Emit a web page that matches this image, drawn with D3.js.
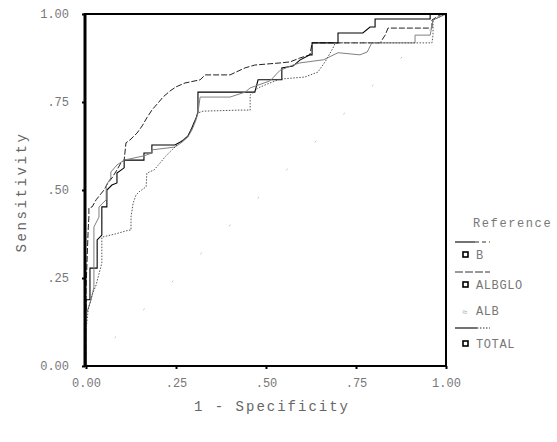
<!DOCTYPE html>
<html>
<head>
<meta charset="utf-8">
<script src="https://cdn.jsdelivr.net/npm/d3@7"></script>
<style>
  html, body { margin: 0; padding: 0; background: #fff; }
  svg { display: block; }
  text { font-family: "Liberation Mono", "DejaVu Sans Mono", monospace; }
</style>
</head>
<body>
<svg id="chart" width="557" height="442"></svg>
<script>
// ---- data (1 - specificity, sensitivity) ----
const tickValues = [0, 0.25, 0.5, 0.75, 1];
const tickLabels = ["0.00", ".25", ".50", ".75", "1.00"];
const seriesNames = ["B", "ALBGLO", "ALB", "TOTAL"];
const legendTitle = "Reference";
const xTitle = "1 - Specificity";
const yTitle = "Sensitivity";

const curveB = [[0,0],[0,.216],[.006,.386],[.008,.423],[.008,.449],[.017,.452],[.028,.472],[.039,.486],[.05,.5],[.061,.52],[.072,.534],[.086,.557],[.097,.577],[.106,.585],[.111,.634],[.122,.642],[.142,.662],[.156,.682],[.169,.705],[.183,.727],[.2,.747],[.214,.764],[.233,.781],[.25,.793],[.275,.804],[.317,.813],[.331,.827],[.4,.827],[.442,.847],[.469,.855],[.539,.861],[.567,.864],[.594,.875],[.622,.884],[.628,.918],[.817,.918],[.831,.94],[.839,.96],[.961,.96],[.961,.983],[.983,.997],[1,1]];

const curveALBGLO = [[0,0],[0,.188],[.011,.188],[.011,.278],[.031,.278],[.031,.358],[.044,.372],[.044,.452],[.058,.452],[.058,.5],[.072,.514],[.086,.52],[.086,.548],[.106,.563],[.106,.585],[.161,.585],[.161,.605],[.183,.605],[.183,.628],[.247,.628],[.267,.639],[.283,.653],[.294,.676],[.306,.705],[.311,.722],[.311,.778],[.469,.778],[.478,.813],[.544,.813],[.544,.847],[.575,.852],[.594,.869],[.622,.884],[.628,.884],[.628,.918],[.7,.918],[.7,.946],[.769,.946],[.789,.963],[.803,.963],[.803,.986],[.956,.986],[.956,1],[1,1]];

const curveALB = [[0,0],[0,.145],[.014,.188],[.022,.224],[.022,.395],[.036,.423],[.036,.452],[.056,.472],[.056,.514],[.069,.534],[.069,.551],[.086,.571],[.106,.585],[.161,.597],[.183,.605],[.183,.614],[.247,.622],[.267,.636],[.283,.651],[.294,.67],[.306,.7],[.311,.72],[.317,.764],[.4,.764],[.442,.778],[.456,.79],[.511,.81],[.539,.84],[.575,.855],[.594,.861],[.66,.87],[.7,.89],[.761,.884],[.781,.892],[.794,.918],[.914,.918],[.914,.94],[.956,.94],[.964,.983],[1,1]];

const curveTOTAL = [[0,0],[0,.102],[.006,.159],[.017,.202],[.028,.23],[.039,.273],[.044,.293],[.044,.366],[.081,.375],[.119,.386],[.125,.386],[.125,.423],[.131,.463],[.139,.486],[.15,.497],[.167,.509],[.169,.548],[.189,.557],[.206,.577],[.222,.597],[.239,.614],[.261,.636],[.283,.653],[.294,.676],[.306,.705],[.311,.719],[.325,.724],[.428,.727],[.456,.727],[.456,.77],[.478,.79],[.511,.804],[.539,.815],[.608,.821],[.644,.835],[.664,.864],[.686,.903],[.692,.918],[.961,.918],[.964,.94],[.964,.983],[1,1]];

const referenceLine = [[0,0],[1,1]];

// ---- drawing ----
const svg = d3.select("#chart");
const x = d3.scaleLinear().domain([0, 1]).range([86, 446]);
const y = d3.scaleLinear().domain([0, 1]).range([366, 14]);
const fmt = d => tickLabels[tickValues.indexOf(d)];

// faint reference diagonal
const line = d3.line().x(d => x(d[0])).y(d => y(d[1]));
svg.append("path").datum(referenceLine).attr("d", line)
  .attr("fill", "none").attr("stroke", "#bbb").attr("stroke-width", 1)
  .attr("stroke-dasharray", "2,38");

// curves
const styles = [
  { data: curveB, stroke: "#222", width: 1, dash: "6,2" },
  { data: curveALBGLO, stroke: "#000", width: 1.1, dash: null },
  { data: curveALB, stroke: "#808080", width: 1, dash: null },
  { data: curveTOTAL, stroke: "#555", width: 1, dash: "1.5,1.5" }
];
styles.forEach(s => {
  svg.append("path").datum(s.data).attr("d", line)
    .attr("fill", "none").attr("stroke", s.stroke)
    .attr("stroke-width", s.width)
    .attr("stroke-dasharray", s.dash);
});

// frame
svg.append("rect").attr("x", 85).attr("y", 14).attr("width", 361).attr("height", 352)
  .attr("fill", "none").attr("stroke", "#000").attr("stroke-width", 2);
svg.append("line").attr("x1", 85).attr("x2", 85).attr("y1", 13).attr("y2", 367)
  .attr("stroke", "#000").attr("stroke-width", 3);

// axes
const xAxis = d3.axisBottom(x).tickValues(tickValues).tickFormat(fmt).tickSize(3).tickPadding(9);
const yAxis = d3.axisLeft(y).tickValues(tickValues).tickFormat(fmt).tickSize(3).tickPadding(13);
const gx = svg.append("g").attr("transform", "translate(0,366)").call(xAxis);
const gy = svg.append("g").attr("transform", "translate(85,0)").call(yAxis);
[gx, gy].forEach(g => {
  g.select(".domain").remove();
  g.selectAll(".tick line").attr("stroke", "#000").attr("stroke-width", 2);
  g.selectAll(".tick text").attr("fill", "#777").style("font-size", "12px")
    .style("font-family", "'Liberation Mono', monospace");
});

// axis titles
svg.append("text").attr("x", 272).attr("y", 411).attr("text-anchor", "middle")
  .attr("fill", "#666").style("font-size", "14px").style("letter-spacing", "2px")
  .text(xTitle);
svg.append("text").attr("transform", "translate(26,192) rotate(-90)")
  .attr("text-anchor", "middle").attr("fill", "#666")
  .style("font-size", "14px").style("letter-spacing", "2.6px")
  .text(yTitle);

// legend
const lg = svg.append("g");
lg.append("text").attr("x", 473).attr("y", 227).attr("fill", "#777")
  .style("font-size", "12px").style("letter-spacing", "1.6px").text(legendTitle);
const sampleRows = [
  { y: 242, solid: 20, dash: "4,3" },
  { y: 272, solid: 0, dash: "8,2" },
  { y: 328, solid: 22, dash: "1.5,1.5" }
];
sampleRows.forEach(r => {
  if (r.solid > 0) {
    lg.append("line").attr("x1", 455).attr("x2", 455 + r.solid).attr("y1", r.y).attr("y2", r.y)
      .attr("stroke", "#000").attr("stroke-width", 1.1);
  }
  lg.append("line").attr("x1", 455 + r.solid).attr("x2", 490).attr("y1", r.y).attr("y2", r.y)
    .attr("stroke", "#333").attr("stroke-width", 1).attr("stroke-dasharray", r.dash);
});
const labelY = [259, 289, 315, 348];
seriesNames.forEach((n, i) => {
  const cy = labelY[i] - 4;
  if (n === "ALB") {
    lg.append("text").attr("x", 462).attr("y", labelY[i]).attr("fill", "#999")
      .style("font-size", "9px").text("≈");
  } else {
    lg.append("rect").attr("x", 463).attr("y", cy - 3).attr("width", 5).attr("height", 5)
      .attr("fill", "#fff").attr("stroke", "#000").attr("stroke-width", 1.6);
  }
  lg.append("text").attr("x", 476).attr("y", labelY[i]).attr("fill", "#777")
    .style("font-size", "12px").style("letter-spacing", "0.6px").text(n);
});
</script>
</body>
</html>
